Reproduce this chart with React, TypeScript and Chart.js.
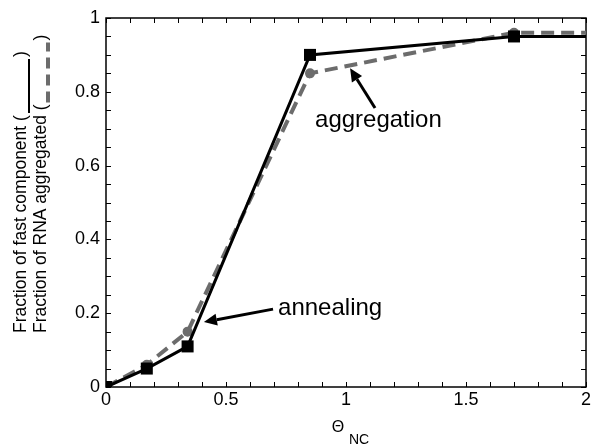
import React, { useEffect, useRef } from "react";
import { Chart, registerables } from "chart.js";

Chart.register(...registerables);

// ---- data ----
const thetaNC = [0, 0.17, 0.34, 0.85, 1.7, 2.0];
const fastComponent = [0, 0.05, 0.11, 0.9, 0.95, 0.95];
const rnaAggregated = [0, 0.06, 0.15, 0.85, 0.96, 0.96];
const markerShown = [true, true, true, true, true, false];
const xTickLabels = ["0", "0.5", "1", "1.5", "2"];
const yTickLabels = ["0", "0.2", "0.4", "0.6", "0.8", "1"];
const yTitleLines = ["Fraction of fast component (", "Fraction of RNA aggregated ("];
const xTitleMain = "Θ";
const xTitleSub = "NC";

const annotationLabels = ["aggregation", "annealing"];
const annotationTextX = [0.871, 0.717];
const annotationTextY = [0.705, 0.195];
const arrowTailX = [1.121, 0.696];
const arrowTailY = [0.756, 0.211];
const arrowHeadX = [1.017, 0.408];
const arrowHeadY = [0.864, 0.176];

const FONT = '"Liberation Sans", Arial, Helvetica, sans-serif';
const GRAY = "#6c6c6c";

function drawArrow(ctx: CanvasRenderingContext2D, x1: number, y1: number, x2: number, y2: number) {
  const ang = Math.atan2(y2 - y1, x2 - x1);
  const hl = 13;
  const hw = 6;
  const bx = x2 - hl * Math.cos(ang);
  const by = y2 - hl * Math.sin(ang);
  ctx.lineWidth = 3;
  ctx.strokeStyle = "#000";
  ctx.fillStyle = "#000";
  ctx.beginPath();
  ctx.moveTo(x1, y1);
  ctx.lineTo(bx, by);
  ctx.stroke();
  ctx.beginPath();
  ctx.moveTo(x2, y2);
  ctx.lineTo(bx + hw * Math.sin(ang), by - hw * Math.cos(ang));
  ctx.lineTo(bx - hw * Math.sin(ang), by + hw * Math.cos(ang));
  ctx.closePath();
  ctx.fill();
}

const framePlugin = {
  id: "frame",
  beforeDatasetsDraw(chart: any) {
    const { ctx, chartArea } = chart;
    const xs = chart.scales.x;
    const ys = chart.scales.y;
    const { left, right, top, bottom } = chartArea;
    ctx.save();
    ctx.strokeStyle = "#000";
    ctx.lineWidth = 1.5;
    ctx.strokeRect(left, top, right - left, bottom - top);
    ctx.lineWidth = 1;
    const tl = 5;
    ctx.beginPath();
    for (let i = 0; i <= 20; i++) {
      const px = Math.round(xs.getPixelForValue(i / 10)) + 0.5;
      ctx.moveTo(px, bottom);
      ctx.lineTo(px, bottom - tl);
      ctx.moveTo(px, top);
      ctx.lineTo(px, top + tl);
    }
    for (let i = 0; i <= 20; i++) {
      const py = Math.round(ys.getPixelForValue(i / 20)) + 0.5;
      ctx.moveTo(left, py);
      ctx.lineTo(left + tl, py);
      ctx.moveTo(right, py);
      ctx.lineTo(right - tl, py);
    }
    ctx.stroke();
    ctx.restore();
  },
  afterDraw(chart: any) {
    const { ctx } = chart;
    const xs = chart.scales.x;
    const ys = chart.scales.y;
    ctx.save();
    // annotations
    ctx.font = `24px ${FONT}`;
    ctx.textBaseline = "alphabetic";
    ctx.textAlign = "left";
    for (let i = 0; i < annotationLabels.length; i++) {
      ctx.fillStyle = "#000";
      ctx.fillText(annotationLabels[i], xs.getPixelForValue(annotationTextX[i]), ys.getPixelForValue(annotationTextY[i]));
      drawArrow(
        ctx,
        xs.getPixelForValue(arrowTailX[i]),
        ys.getPixelForValue(arrowTailY[i]),
        xs.getPixelForValue(arrowHeadX[i]),
        ys.getPixelForValue(arrowHeadY[i])
      );
    }
    // y title (two rotated lines with line samples)
    const bases = [26, 46];
    const sampleLen = [54, 60];
    ctx.font = `17.5px ${FONT}`;
    for (let i = 0; i < 2; i++) {
      ctx.save();
      ctx.translate(bases[i], 333);
      ctx.rotate(-Math.PI / 2);
      ctx.fillStyle = "#000";
      ctx.fillText(yTitleLines[i], 0, 0);
      const w = ctx.measureText(yTitleLines[i]).width;
      ctx.beginPath();
      if (i === 0) {
        ctx.strokeStyle = "#000";
        ctx.lineWidth = 2;
        ctx.setLineDash([]);
        ctx.moveTo(w + 2, 3);
        ctx.lineTo(w + 2 + sampleLen[i], 3);
      } else {
        ctx.strokeStyle = GRAY;
        ctx.lineWidth = 4;
        ctx.setLineDash([11, 6]);
        ctx.moveTo(w + 2, 2);
        ctx.lineTo(w + 2 + sampleLen[i], 2);
      }
      ctx.stroke();
      ctx.setLineDash([]);
      ctx.fillText(")", w + 4 + sampleLen[i], 0);
      ctx.restore();
    }
    // x title
    ctx.fillStyle = "#000";
    ctx.textBaseline = "middle";
    ctx.textAlign = "center";
    ctx.font = `16px ${FONT}`;
    ctx.fillText(xTitleMain, 338, 428);
    ctx.textAlign = "left";
    ctx.font = `14px ${FONT}`;
    ctx.fillText(xTitleSub, 349, 440);
    ctx.restore();
  },
};

export default function App() {
  const canvasRef = useRef<HTMLCanvasElement | null>(null);

  useEffect(() => {
    if (!canvasRef.current) return;
    const chart = new Chart(canvasRef.current, {
      type: "line",
      data: {
        datasets: [
          {
            label: "Fraction of fast component",
            data: thetaNC.map((x, i) => ({ x, y: fastComponent[i] })),
            borderColor: "#000",
            backgroundColor: "#000",
            borderWidth: 3,
            pointStyle: "rect",
            pointRadius: markerShown.map((m) => (m ? 8.5 : 0)),
            pointBorderWidth: 0,
            pointHoverRadius: 0,
            tension: 0,
            order: 0,
          },
          {
            label: "Fraction of RNA aggregated",
            data: thetaNC.map((x, i) => ({ x, y: rnaAggregated[i] })),
            borderColor: GRAY,
            backgroundColor: GRAY,
            borderWidth: 4,
            borderDash: [13, 7],
            pointStyle: "circle",
            pointRadius: markerShown.map((m) => (m ? 5 : 0)),
            pointBorderWidth: 0,
            pointHoverRadius: 0,
            tension: 0,
            order: 1,
          },
        ],
      },
      options: {
        responsive: true,
        maintainAspectRatio: false,
        animation: false,
        events: [],
        layout: { padding: { top: 18, right: 14, left: 0, bottom: 0 } },
        plugins: {
          legend: { display: false },
          tooltip: { enabled: false },
          title: { display: false },
        },
        scales: {
          x: {
            type: "linear",
            min: 0,
            max: 2,
            grid: { display: false, drawTicks: false },
            border: { display: false },
            ticks: {
              stepSize: 0.5,
              color: "#000",
              font: { family: FONT, size: 18 },
              padding: 2,
              maxRotation: 0,
              callback: (_v: any, i: number) => xTickLabels[i],
            },
            afterFit: (s: any) => {
              s.height = 60;
            },
          },
          y: {
            type: "linear",
            min: 0,
            max: 1,
            grid: { display: false, drawTicks: false },
            border: { display: false },
            ticks: {
              stepSize: 0.2,
              color: "#000",
              font: { family: FONT, size: 18 },
              padding: 6,
              callback: (_v: any, i: number) => yTickLabels[i],
            },
            afterFit: (s: any) => {
              s.width = 106;
            },
          },
        },
      },
      plugins: [framePlugin],
    } as any);
    return () => chart.destroy();
  }, []);

  return (
    <div style={{ position: "fixed", left: 0, top: 0, width: 600, height: 447, background: "#fff" }}>
      <canvas ref={canvasRef} />
    </div>
  );
}
